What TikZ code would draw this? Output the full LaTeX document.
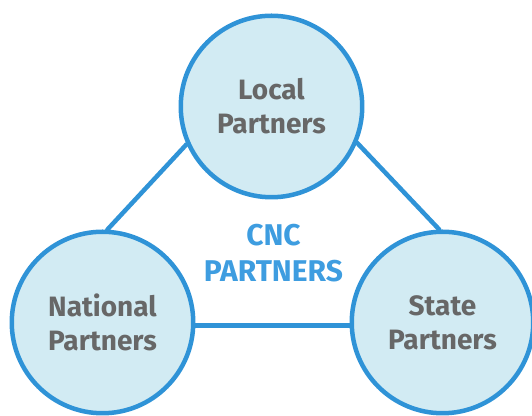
\documentclass[tikz,border=0pt]{standalone}
\usepackage{fontspec}
\setmainfont{Fira Sans}
\usetikzlibrary{arrows}
\definecolor{rim}{HTML}{2F93D7}
\definecolor{pool}{HTML}{D2EBF3}
\definecolor{ink}{HTML}{676767}
\definecolor{cnc}{HTML}{3E9DE0}

\begin{document}
\begin{tikzpicture}[line cap=round,line join=round,x=0.5pt,y=-0.5pt,
    partner/.style={circle,draw=rim,fill=pool,line width=2.25pt,minimum size=90.75pt,inner sep=0pt,
      align=center,text=ink,font=\fontsize{14}{17}\selectfont\bfseries},
    link/.style={draw=rim,line width=2.25pt}]
                \clip (0,0) rectangle (532,416);
                \node[partner] (local) at (271.5,106.5) {Local\\Partners};
                \node[partner] (national) at (102.5,322.5) {National\\Partners};
                \node[partner] (state) at (442.5,322.5) {State\\Partners};
                \draw [link] (local.204.5) -- (national.87);
                \draw [link] (local.337) -- (state.92);
                \draw [link] (national.-2) -- (state.182);
                \node[align=center,text=cnc,font=\fontsize{15}{18}\selectfont\bfseries] (cnc) at (273.5,253.5) {CNC\\PARTNERS};
\end{tikzpicture}
\end{document}
